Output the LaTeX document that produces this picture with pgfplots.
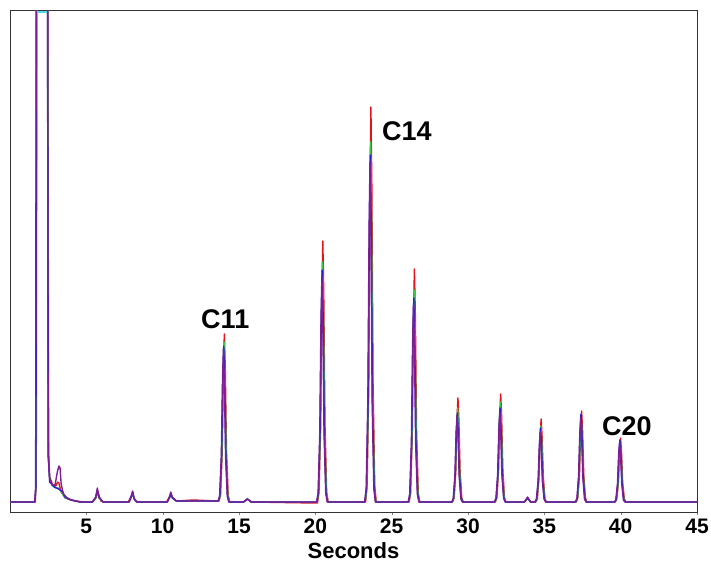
\documentclass[border=0pt]{standalone}
\usepackage{fontspec}
\setmainfont{Liberation Sans}
\usepackage{pgfplots}
\pgfplotsset{compat=1.18}
\definecolor{trRed}{RGB}{225,20,30}
\definecolor{trGreen}{RGB}{60,200,70}
\definecolor{trBlue}{RGB}{40,30,210}
\definecolor{trPurple}{RGB}{125,30,150}
\definecolor{trCyan}{RGB}{80,220,230}
\newcommand{\tickfont}{\fontsize{21bp}{23bp}\selectfont\bfseries}
\newcommand{\lblfont}{\fontsize{27bp}{29bp}\selectfont\bfseries}
\begin{document}
\begin{tikzpicture}
\begin{axis}[
scale only axis,
width=687bp, height=501bp,
xmin=0, xmax=45, ymin=0, ymax=501,
xtick={5,10,...,45}, ytick=\empty,
xtick pos=bottom, tick align=outside, major tick length=3bp,
/pgf/number format/assume math mode=true,
xticklabel style={font=\tickfont, inner sep=0pt, anchor=north, yshift=-4bp},
xlabel={Seconds},
xlabel style={font=\fontsize{22bp}{24bp}\selectfont\bfseries, inner sep=0pt,
  at={(axis description cs:0.5,0)}, anchor=base, yshift=-46bp},
axis line style={black!80, line width=1bp},
every axis plot/.append style={line width=1.4bp, line join=round},
]
% red
\addplot[trRed] coordinates {
(0,10)(1.65,10)(1.72,30)(1.76,600)(2.47,600)(2.53,60)(2.6,35)(2.8,27)(3.0,26)(3.12,30)(3.2,29)(3.35,20)(3.6,15)(4.0,12)(4.6,10)
(5.4,10)(5.6,13)(5.68,18)(5.76,20)(5.84,16)(5.95,11)(6.2,10)(7.5,10)
(7.75,10)(7.95,16)(8.04,18)(8.12,14)(8.3,10)(9.5,10)
(10.25,10)(10.45,15)(10.54,18)(10.62,15)(10.9,11)(12,12)(13.6,11)
(13.69,11)(13.79,17)(13.9,60)(13.98,144)(14.04,178)(14.10,144)(14.18,60)(14.29,17)(14.39,10)
(15.3,10)(15.55,13)(15.8,10)(19.9,9)
(20.14,9)(20.24,20)(20.35,88)(20.43,219)(20.49,271)(20.55,219)(20.63,88)(20.74,20)(20.84,10)
(23.29,10)(23.39,26)(23.5,128)(23.58,326)(23.64,405)(23.70,326)(23.78,128)(23.89,26)(23.99,10)
(26.14,10)(26.24,19)(26.35,80)(26.43,196)(26.49,243)(26.55,196)(26.63,80)(26.74,19)(26.84,10)
(28.99,10)(29.09,14)(29.2,41)(29.28,93)(29.34,114)(29.40,93)(29.48,41)(29.59,14)(29.69,10)
(31.79,10)(31.89,14)(32.0,42)(32.08,96)(32.14,118)(32.20,96)(32.28,42)(32.39,14)(32.49,10)
(33.7,10)(33.9,14)(34.1,10)
(34.44,10)(34.54,13)(34.65,35)(34.73,76)(34.79,93)(34.85,76)(34.93,35)(35.04,13)(35.14,10)
(37.09,10)(37.19,14)(37.3,37)(37.38,83)(37.44,101)(37.50,83)(37.58,37)(37.69,14)(37.79,10)
(39.64,10)(39.74,13)(39.85,29)(39.93,61)(39.99,74)(40.05,61)(40.13,29)(40.24,13)(40.34,10)
(43.5,10)(45,10)
};
% green
\addplot[trGreen] coordinates {
(0,10)(1.64,10)(1.71,28)(1.75,600)(2.46,600)(2.52,58)(2.6,32)(2.8,26)(3.0,24)(3.2,24)(3.4,19)(3.6,14)(4.0,12)(4.6,10)
(5.4,10)(5.62,14)(5.72,21)(5.82,14)(6.1,10)(7.6,10)
(7.8,10)(7.98,16)(8.05,19)(8.14,13)(8.3,10)(9.6,10)
(10.3,10)(10.48,15)(10.55,18)(10.64,14)(10.9,11)(13.6,11)
(13.67,11)(13.77,16)(13.88,58)(13.96,138)(14.02,170)(14.08,138)(14.16,58)(14.27,16)(14.37,10)
(15.3,10)(15.55,13)(15.8,10)(20.0,10)
(20.12,10)(20.22,20)(20.33,82)(20.41,202)(20.47,250)(20.53,202)(20.61,82)(20.72,20)(20.82,10)
(23.27,10)(23.37,24)(23.48,118)(23.56,298)(23.62,370)(23.68,298)(23.76,118)(23.87,24)(23.97,10)
(26.12,10)(26.22,18)(26.33,74)(26.41,180)(26.47,222)(26.53,180)(26.61,74)(26.72,18)(26.82,10)
(28.97,10)(29.07,14)(29.18,38)(29.26,85)(29.32,104)(29.38,85)(29.46,38)(29.57,14)(29.67,10)
(31.77,10)(31.87,14)(31.98,40)(32.06,90)(32.12,110)(32.18,90)(32.26,40)(32.37,14)(32.47,10)
(33.7,10)(33.9,14)(34.1,10)
(34.42,10)(34.52,13)(34.63,33)(34.71,71)(34.77,86)(34.83,71)(34.91,33)(35.02,13)(35.12,10)
(37.07,10)(37.17,13)(37.28,35)(37.36,76)(37.42,92)(37.48,76)(37.56,35)(37.67,13)(37.77,10)
(39.62,10)(39.72,12)(39.83,28)(39.91,59)(39.97,71)(40.03,59)(40.11,28)(40.22,12)(40.32,10)
(45,10)
};
% blue
\addplot[trBlue] coordinates {
(0,10)(1.63,10)(1.7,26)(1.74,600)(2.45,600)(2.51,57)(2.6,30)(2.9,25)(3.2,23)(3.45,20)(3.6,15)(4.0,12)(4.6,10)
(5.4,10)(5.62,15)(5.72,22)(5.82,15)(6.1,10)(7.6,10)
(7.8,10)(7.97,16)(8.04,20)(8.13,13)(8.3,10)(9.6,10)
(10.3,10)(10.47,15)(10.54,19)(10.63,14)(10.9,11)(13.6,11)
(13.65,11)(13.75,16)(13.86,57)(13.94,135)(14.0,166)(14.06,135)(14.14,57)(14.25,16)(14.35,10)
(15.3,10)(15.55,13)(15.8,10)(20.0,10)
(20.1,10)(20.2,19)(20.31,80)(20.39,196)(20.45,242)(20.51,196)(20.59,80)(20.7,19)(20.8,10)
(23.25,10)(23.35,24)(23.46,114)(23.54,288)(23.6,357)(23.66,288)(23.74,114)(23.85,24)(23.95,10)
(26.1,10)(26.2,18)(26.31,71)(26.39,173)(26.45,214)(26.51,173)(26.59,71)(26.7,18)(26.8,10)
(28.95,10)(29.05,14)(29.16,37)(29.24,81)(29.3,99)(29.36,81)(29.44,37)(29.55,14)(29.65,10)
(31.75,10)(31.85,14)(31.96,38)(32.04,85)(32.1,104)(32.16,85)(32.24,38)(32.35,14)(32.45,10)
(33.7,10)(33.9,14)(34.1,10)
(34.4,10)(34.5,13)(34.61,32)(34.69,69)(34.75,84)(34.81,69)(34.89,32)(35.0,13)(35.1,10)
(37.05,10)(37.15,14)(37.26,36)(37.34,80)(37.4,98)(37.46,80)(37.54,36)(37.65,14)(37.75,10)
(39.6,10)(39.7,12)(39.81,29)(39.89,60)(39.95,72)(40.01,60)(40.09,29)(40.2,12)(40.3,10)
(45,10)
};
% purple
\addplot[trPurple] coordinates {
(0,10)(1.62,10)(1.68,25)(1.72,600)(2.45,600)(2.5,55)(2.6,33)(2.75,27)(2.95,27)(3.1,40)(3.2,46)(3.28,44)(3.35,28)(3.5,18)(3.8,13)(4.3,11)(4.8,10)
(5.4,10)(5.62,15)(5.72,24)(5.82,15)(6.1,10)(7.6,10)
(7.8,10)(7.96,17)(8.03,21)(8.12,14)(8.3,10)(9.6,10)
(10.3,10)(10.46,16)(10.53,20)(10.62,15)(10.9,11)(13.6,11)
(13.63,11)(13.73,16)(13.84,56)(13.92,132)(13.98,163)(14.04,132)(14.12,56)(14.23,16)(14.33,10)
(15.3,10)(15.55,13)(15.8,10)(20.0,10)
(20.08,10)(20.18,19)(20.29,78)(20.37,191)(20.43,236)(20.49,191)(20.57,78)(20.68,19)(20.78,10)
(23.23,10)(23.33,24)(23.44,112)(23.52,282)(23.58,350)(23.64,282)(23.72,112)(23.83,24)(23.93,10)
(26.08,10)(26.18,18)(26.29,69)(26.37,168)(26.43,208)(26.49,168)(26.57,69)(26.68,18)(26.78,10)
(28.93,10)(29.03,13)(29.14,36)(29.22,79)(29.28,96)(29.34,79)(29.42,36)(29.53,13)(29.63,10)
(31.73,10)(31.83,14)(31.94,37)(32.02,82)(32.08,100)(32.14,82)(32.22,37)(32.33,14)(32.43,10)
(33.7,10)(33.9,15)(34.1,10)
(34.38,10)(34.48,13)(34.59,31)(34.67,66)(34.73,80)(34.79,66)(34.87,31)(34.98,13)(35.08,10)
(37.03,10)(37.13,13)(37.24,35)(37.32,77)(37.38,94)(37.44,77)(37.52,35)(37.63,13)(37.73,10)
(39.58,10)(39.68,12)(39.79,28)(39.87,58)(39.93,70)(39.99,58)(40.07,28)(40.18,12)(40.28,10)
(45,10)
};
% off-scale top of the solvent peak
\addplot[trCyan, line width=2bp] coordinates {(1.74,500)(2.45,500)};
\node[font=\lblfont] at (axis cs:14.1,193) {C11};
\node[font=\lblfont] at (axis cs:26.0,381) {C14};
\node[font=\lblfont] at (axis cs:40.4,86) {C20};
\end{axis}
\pgfresetboundingbox
\path (current axis.south west) ++(-10bp,-50bp) rectangle ([shift={(14bp,11bp)}]current axis.north east);
\end{tikzpicture}
\end{document}
